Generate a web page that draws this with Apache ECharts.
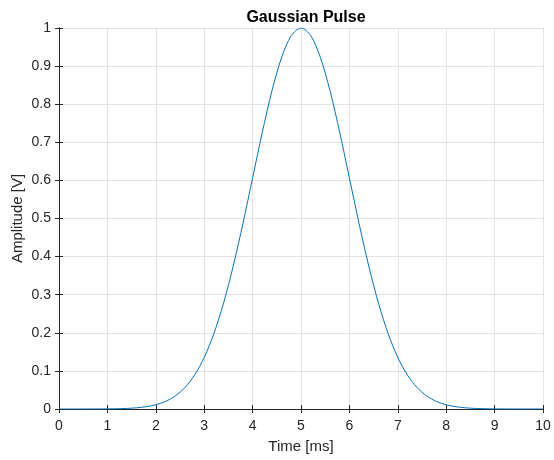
<!DOCTYPE html>
<html>
<head>
<meta charset="utf-8">
<script src="https://cdn.jsdelivr.net/npm/echarts@6/dist/echarts.min.js"></script>
<style>
  html, body { margin: 0; padding: 0; background: #fff; }
  #chart { width: 554px; height: 460px; }
</style>
</head>
<body>
<div id="chart"></div>
<script>
// Sample times in milliseconds
const timeMs = [
  0.0, 0.2, 0.4, 0.6, 0.8, 1.0, 1.2, 1.4, 1.6, 1.8,
  2.0, 2.2, 2.4, 2.6, 2.8, 3.0, 3.2, 3.4, 3.6, 3.8,
  4.0, 4.2, 4.4, 4.6, 4.8, 5.0, 5.2, 5.4, 5.6, 5.8,
  6.0, 6.2, 6.4, 6.6, 6.8, 7.0, 7.2, 7.4, 7.6, 7.8,
  8.0, 8.2, 8.4, 8.6, 8.8, 9.0, 9.2, 9.4, 9.6, 9.8, 10.0
];
// Pulse amplitude in volts
const amplitudeV = [
  0, 0, 0, 0, 0.0001, 0.0003, 0.0007, 0.0015, 0.0031, 0.0060,
  0.0111, 0.0198, 0.0340, 0.0561, 0.0889, 0.1353, 0.1979, 0.2780, 0.3753, 0.4868,
  0.6065, 0.7261, 0.8353, 0.9231, 0.9802, 1.0000, 0.9802, 0.9231, 0.8353, 0.7261,
  0.6065, 0.4868, 0.3753, 0.2780, 0.1979, 0.1353, 0.0889, 0.0561, 0.0340, 0.0198,
  0.0111, 0.0060, 0.0031, 0.0015, 0.0007, 0.0003, 0.0001, 0, 0, 0, 0
];
const xTicks = [0, 1, 2, 3, 4, 5, 6, 7, 8, 9, 10];
const yTicks = [0, 0.1, 0.2, 0.3, 0.4, 0.5, 0.6, 0.7, 0.8, 0.9, 1];

const axisColor = '#262626';
const gridColor = '#e3e3e3';
const font = 'Liberation Sans, Arial, sans-serif';

const points = timeMs.map((t, i) => [t, amplitudeV[i]]);

function mainAxis(extra) {
  return Object.assign({
    type: 'value',
    axisLine: { show: true, lineStyle: { color: axisColor, width: 1 } },
    axisTick: { show: true, inside: true, length: 4, lineStyle: { color: axisColor } },
    splitLine: { show: true, lineStyle: { color: gridColor, width: 1 } },
    nameMoveOverlap: false,
    nameTextStyle: { color: axisColor, fontFamily: font, fontSize: 15 }
  }, extra);
}
function mirrorAxis(extra) {
  return Object.assign({
    type: 'value',
    axisLine: { show: true, lineStyle: { color: axisColor, width: 1 } },
    axisTick: { show: true, inside: true, length: 4, lineStyle: { color: axisColor } },
    axisLabel: { show: false },
    splitLine: { show: false }
  }, extra);
}

const chart = echarts.init(document.getElementById('chart'), null, { renderer: 'canvas' });
chart.setOption({
  animation: false,
  backgroundColor: '#ffffff',
  title: {
    text: 'Gaussian Pulse',
    left: 301, top: 5, textAlign: 'center',
    textStyle: { color: '#000', fontFamily: font, fontSize: 16, fontWeight: 'bold' }
  },
  grid: { left: 59, top: 28, right: 11, bottom: 51, containLabel: false, outerBoundsMode: 'none' },
  xAxis: [
    mainAxis({
      min: xTicks[0], max: xTicks[xTicks.length - 1], interval: 1,
      position: 'bottom',
      name: 'Time [ms]', nameLocation: 'middle', nameGap: 30,
      axisLabel: { color: axisColor, fontFamily: font, fontSize: 14, margin: 10 }
    }),
    mirrorAxis({ min: xTicks[0], max: xTicks[xTicks.length - 1], interval: 1, position: 'top' })
  ],
  yAxis: [
    mainAxis({
      min: yTicks[0], max: yTicks[yTicks.length - 1], interval: 0.1,
      position: 'left',
      name: 'Amplitude [V]', nameLocation: 'middle', nameGap: 34,
      axisLabel: { color: axisColor, fontFamily: font, fontSize: 14, margin: 8 }
    }),
    mirrorAxis({ min: yTicks[0], max: yTicks[yTicks.length - 1], interval: 0.1, position: 'right' })
  ],
  series: [{
    type: 'line',
    data: points,
    xAxisIndex: 0, yAxisIndex: 0,
    showSymbol: false,
    smooth: 0.3,
    lineStyle: { color: '#0072BD', width: 1 },
    itemStyle: { color: '#0072BD' }
  }]
});
</script>
</body>
</html>
